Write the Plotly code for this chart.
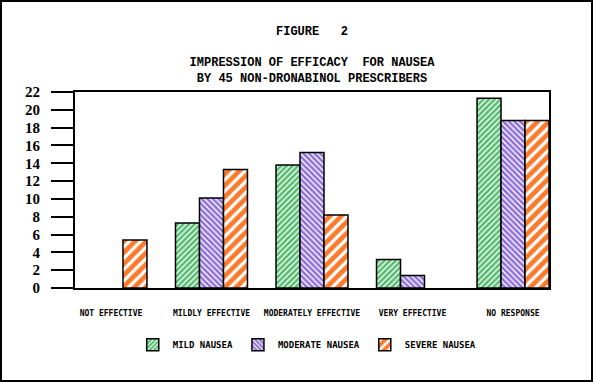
import plotly.graph_objects as go

categories = ["NOT EFFECTIVE", "MILDLY EFFECTIVE", "MODERATELY EFFECTIVE", "VERY EFFECTIVE", "NO RESPONSE"]
mild = [None, 7.3, 13.8, 3.2, 21.3]
moderate = [None, 10.1, 15.2, 1.4, 18.8]
severe = [5.4, 13.3, 8.2, None, 18.8]
y_ticks = list(range(0, 23, 2))

W, H = 593, 382
ml, mr, mt, mb = 75, 44, 92, 94
pw, ph = W - ml - mr, H - mt - mb

series = [
    ("MILD NAUSEA", mild, "#52bb6e", "/", 4, 0.35),
    ("MODERATE NAUSEA", moderate, "#9070d8", "\\", 4, 0.35),
    ("SEVERE NAUSEA", severe, "#fb7a2c", "/", 8, 0.4),
]

fig = go.Figure()
for name, vals, col, shp, sz, sol in series:
    fig.add_trace(go.Bar(
        x=categories, y=vals, name=name,
        marker=dict(color=col, line=dict(color="black", width=1.5),
                    pattern=dict(shape=shp, fgcolor="white", bgcolor=col,
                                 size=sz, solidity=sol, fgopacity=1)),
    ))

fig.update_layout(
    width=W, height=H,
    margin=dict(l=ml, r=mr, t=mt, b=mb, pad=0),
    paper_bgcolor="white", plot_bgcolor="white",
    barmode="group", bargap=0.284, bargroupgap=0,
    showlegend=True,
    legend=dict(orientation="h", x=0.49, xanchor="center", y=-0.215, yanchor="top",
                font=dict(family="DejaVu Sans Mono", size=9, color="black", weight="bold"),
                itemwidth=30, traceorder="normal"),
    title=dict(text="<b>FIGURE   2</b><br><br><b>IMPRESSION OF EFFICACY  FOR NAUSEA</b><br><b>BY 45 NON-DRONABINOL PRESCRIBERS</b>",
               x=0.5, xanchor="center", y=0.908, yanchor="top",
               font=dict(family="Liberation Mono", size=12, color="black"),
               xref="paper"),
    font=dict(color="black"),
)
fig.update_xaxes(
    type="category", range=[-0.358, 4.358],
    showline=True, linecolor="black", linewidth=2, mirror=True,
    ticks="", showgrid=False,
    tickfont=dict(family="DejaVu Sans Mono", size=8, color="black", weight="bold"),
    ticklabelstandoff=16,
)
fig.update_yaxes(
    range=[0, 22], tickvals=y_ticks,
    showline=True, linecolor="black", linewidth=2, mirror=True,
    ticks="outside", ticklen=22, tickwidth=2, tickcolor="black",
    showgrid=False, zeroline=False,
    tickfont=dict(family="Liberation Serif", size=15, color="black", weight="bold"),
    ticklabelstandoff=8,
)
# outer frame around the whole figure
fig.add_shape(type="rect", xref="paper", yref="paper",
              x0=(1 - ml) / pw, x1=(592 - ml) / pw,
              y0=-(381 - (H - mb)) / ph, y1=1 + (mt - 1) / ph,
              line=dict(color="black", width=2), fillcolor="rgba(0,0,0,0)", layer="below")
fig.write_html("out.html", config={"displayModeBar": False},
               post_script="document.body.style.margin='0';")
